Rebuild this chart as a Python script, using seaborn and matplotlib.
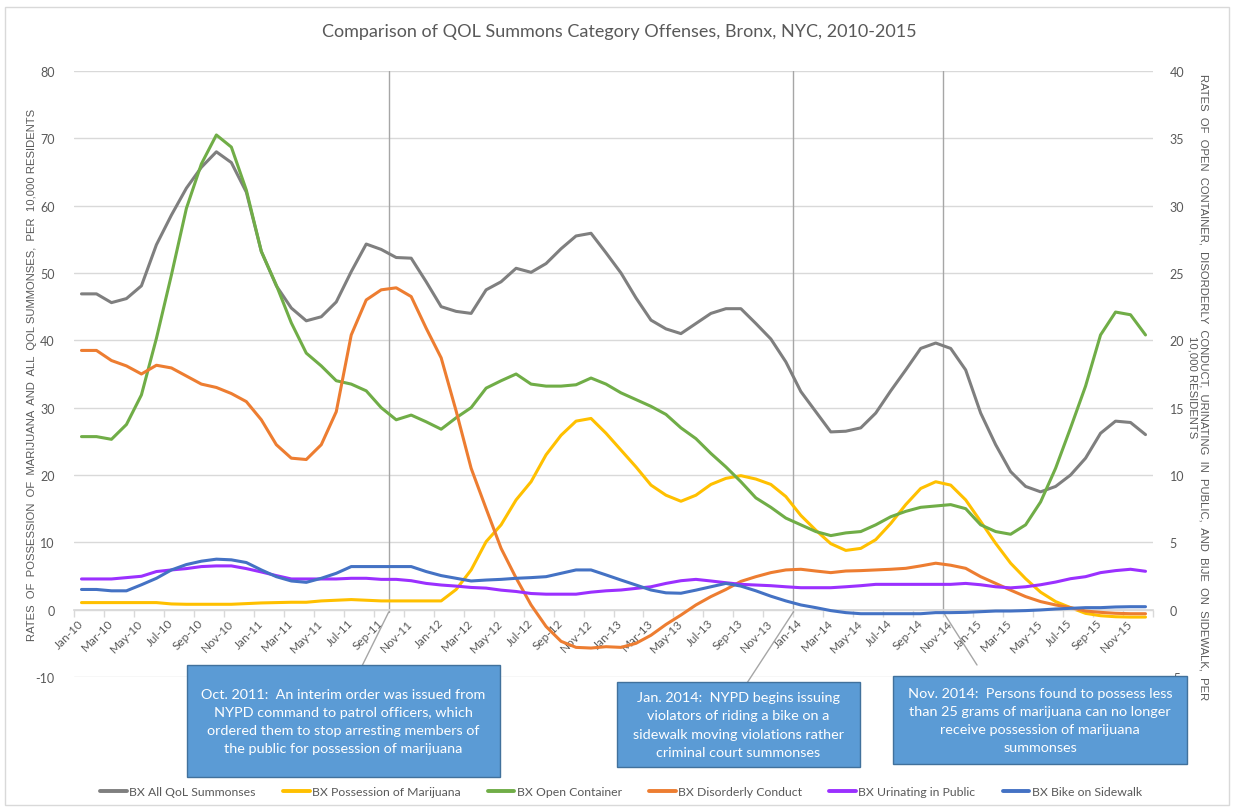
import numpy as np
import pandas as pd
import matplotlib
matplotlib.use('Agg')
import matplotlib.pyplot as plt
import seaborn as sns
from matplotlib.patches import Rectangle
from matplotlib.lines import Line2D

# Months Jan-10 .. Dec-15
months = list(pd.date_range('2010-01-01', periods=72, freq='MS').strftime('%b-%y'))

# left axis: rates per 10,000 residents
all_qol = [46.9, 46.9, 45.6, 46.2, 48.1, 54.2, 58.6, 62.6, 65.7, 68.0, 66.4, 62.0,
           53.2, 48.1, 44.8, 42.9, 43.5, 45.7, 50.2, 54.3, 53.5, 52.3, 52.2, 48.7,
           45.0, 44.3, 44.0, 47.5, 48.7, 50.7, 50.1, 51.4, 53.6, 55.5, 55.9, 53.0,
           50.0, 46.3, 43.0, 41.7, 41.0, 42.5, 44.0, 44.7, 44.7, 42.5, 40.2, 36.8,
           32.4, 29.4, 26.4, 26.5, 27.0, 29.2, 32.5, 35.6, 38.8, 39.6, 38.8, 35.6,
           29.2, 24.5, 20.5, 18.3, 17.5, 18.3, 20.0, 22.5, 26.2, 28.0, 27.8, 26.0]
marijuana = [1.05, 1.05, 1.05, 1.05, 1.05, 1.05, 0.85, 0.8, 0.8, 0.8, 0.8, 0.9,
             1.0, 1.05, 1.1, 1.1, 1.3, 1.4, 1.5, 1.4, 1.3, 1.3, 1.3, 1.3,
             1.3, 3.0, 5.9, 10.1, 12.6, 16.3, 19.0, 23.0, 25.9, 28.0, 28.4, 26.2,
             23.7, 21.2, 18.5, 17.0, 16.1, 17.0, 18.6, 19.5, 19.9, 19.4, 18.6, 16.8,
             14.0, 11.8, 9.8, 8.8, 9.1, 10.4, 12.8, 15.6, 18.0, 19.0, 18.5, 16.3,
             13.1, 9.85, 6.9, 4.6, 2.6, 1.2, 0.3, -0.55, -0.9, -1.05, -1.1, -1.1]

# right axis: rates per 10,000 residents
open_container = [12.85, 12.85, 12.65, 13.75, 15.95, 20.15, 24.85, 29.8, 33.1, 35.25, 34.35, 31.15,
                  26.6, 24.1, 21.3, 19.05, 18.1, 17.0, 16.75, 16.25, 15.0, 14.1, 14.45, 13.95,
                  13.4, 14.25, 15.0, 16.45, 17.0, 17.5, 16.75, 16.6, 16.6, 16.7, 17.2, 16.75,
                  16.1, 15.6, 15.1, 14.5, 13.5, 12.7, 11.6, 10.6, 9.5, 8.3, 7.6, 6.8,
                  6.3, 5.8, 5.5, 5.7, 5.8, 6.3, 6.9, 7.3, 7.6, 7.7, 7.8, 7.5,
                  6.3, 5.8, 5.6, 6.3, 8.0, 10.5, 13.5, 16.6, 20.4, 22.1, 21.9, 20.4]
disorderly = [19.25, 19.25, 18.5, 18.1, 17.5, 18.15, 17.95, 17.35, 16.75, 16.5, 16.05, 15.45,
              14.1, 12.25, 11.25, 11.15, 12.25, 14.7, 20.4, 23.0, 23.75, 23.9, 23.25, 20.9,
              18.7, 14.75, 10.5, 7.5, 4.55, 2.35, 0.35, -1.25, -2.35, -2.8, -2.85, -2.75,
              -2.8, -2.5, -1.9, -1.1, -0.4, 0.35, 0.97, 1.5, 2.1, 2.45, 2.75, 2.95,
              3.0, 2.87, 2.75, 2.87, 2.9, 2.95, 3.0, 3.07, 3.25, 3.45, 3.3, 3.07,
              2.45, 1.95, 1.45, 0.97, 0.6, 0.35, 0.15, -0.1, -0.2, -0.27, -0.3, -0.3]
urinating = [2.28, 2.28, 2.28, 2.38, 2.48, 2.83, 2.95, 3.05, 3.2, 3.25, 3.25, 3.05,
             2.8, 2.53, 2.28, 2.28, 2.28, 2.28, 2.33, 2.33, 2.25, 2.25, 2.15, 1.95,
             1.83, 1.75, 1.65, 1.6, 1.45, 1.35, 1.2, 1.15, 1.15, 1.15, 1.3, 1.4,
             1.46, 1.58, 1.7, 1.95, 2.15, 2.25, 2.13, 2.0, 1.88, 1.83, 1.78, 1.7,
             1.63, 1.63, 1.63, 1.7, 1.78, 1.88, 1.88, 1.88, 1.88, 1.88, 1.88, 1.95,
             1.85, 1.7, 1.62, 1.7, 1.85, 2.05, 2.3, 2.45, 2.75, 2.9, 3.0, 2.85]
bike = [1.5, 1.5, 1.4, 1.4, 1.85, 2.33, 2.95, 3.35, 3.6, 3.75, 3.7, 3.5,
        2.95, 2.45, 2.13, 2.03, 2.33, 2.7, 3.2, 3.2, 3.2, 3.2, 3.2, 2.83,
        2.53, 2.33, 2.13, 2.2, 2.25, 2.33, 2.38, 2.45, 2.7, 2.95, 2.95, 2.58,
        2.2, 1.83, 1.46, 1.25, 1.22, 1.45, 1.7, 1.95, 1.75, 1.4, 1.0, 0.65,
        0.35, 0.15, -0.07, -0.22, -0.3, -0.3, -0.3, -0.3, -0.3, -0.22, -0.22, -0.2,
        -0.15, -0.1, -0.1, -0.07, -0.02, 0.05, 0.1, 0.15, 0.15, 0.2, 0.22, 0.22]

left_series = {'BX All QoL Summonses': (all_qol, '#7F7F7F'),
               'BX Possession of Marijuana': (marijuana, '#FFC000')}
right_series = {'BX Open Container': (open_container, '#70AD47'),
                'BX Disorderly Conduct': (disorderly, '#ED7D31'),
                'BX Urinating in Public': (urinating, '#9B30FF'),
                'BX Bike on Sidewalk': (bike, '#4472C4')}

events = ['Oct-11', 'Jan-14', 'Nov-14']
notes = ['Oct. 2011:  An interim order was issued from\nNYPD command to patrol officers, which\n'
         'ordered them to stop arresting members of\nthe public for possession of marijuana',
         'Jan. 2014:  NYPD begins issuing\nviolators of riding a bike on a\n'
         'sidewalk moving violations rather\ncriminal court summonses',
         'Nov. 2014:  Persons found to possess less\nthan 25 grams of marijuana can no longer\n'
         'receive possession of marijuana\nsummonses']

sns.set_theme(style='white')
plt.rcParams['font.family'] = ['Lato', 'DejaVu Sans']
plt.rcParams['axes.unicode_minus'] = False
txt = '#595959'

W, H = 1234, 812
fig = plt.figure(figsize=(W / 100, H / 100), dpi=100)
fig.patches.append(Rectangle((5 / W, 1 - 806 / H), 1224 / W, 798 / H, transform=fig.transFigure,
                             fill=False, edgecolor='#D9D9D9', linewidth=1))

ax1 = fig.add_axes([74 / W, 1 - 678 / H, 1079 / W, 606 / H])
ax2 = ax1.twinx()
x = np.arange(len(months))

for name, (vals, col) in left_series.items():
    sns.lineplot(x=x, y=vals, ax=ax1, color=col, linewidth=2.2, legend=False)
for name, (vals, col) in right_series.items():
    sns.lineplot(x=x, y=vals, ax=ax2, color=col, linewidth=2.2, legend=False)

ax1.set_xlim(-0.5, len(months) - 0.5)
ax1.set_ylim(-10, 80)
ax2.set_ylim(-5, 40)
ax1.set_yticks(range(-10, 90, 10))
ax2.set_yticks(range(-5, 45, 5))
ax1.yaxis.grid(True, color='#D9D9D9', linewidth=1)
ax1.xaxis.grid(False)
for ax in (ax1, ax2):
    for s in ax.spines.values():
        s.set_visible(False)
    ax.tick_params(axis='y', length=0, labelsize=9, labelcolor=txt, pad=14)
ax1.spines['bottom'].set_visible(True)
ax1.spines['bottom'].set_position(('data', 0))
ax1.spines['bottom'].set_color('#D9D9D9')

ax1.set_xticks(x[::2])
ax1.set_xticklabels(months[::2], rotation=45, ha='right', va='center', rotation_mode='anchor')
ax1.set_xticks(np.arange(-0.5, len(months), 2), minor=True)
ax1.tick_params(axis='x', which='major', length=0, pad=8, labelsize=8.5, labelcolor=txt)
ax1.tick_params(axis='x', which='minor', length=5, color='#D9D9D9', bottom=True)
ax2.tick_params(axis='y', pad=12)

# event lines and callouts
boxes = [(187, 666, 500, 778), (617, 683, 860, 768), (893, 677, 1187, 765)]
leader_ends = [(362, 667), (747, 684), (977, 666)]
for ev, note, (bx0, by0, bx1, by1), (lx, ly) in zip(events, notes, boxes, leader_ends):
    xe = months.index(ev) - 0.5
    ax1.plot([xe, xe], [80, -0.35], color='#A6A6A6', linewidth=1, zorder=1)
    ax1.annotate('', xy=(lx / W, 1 - ly / H), xycoords='figure fraction',
                 xytext=(xe, -0.35), textcoords='data',
                 arrowprops=dict(arrowstyle='-', color='#A6A6A6', linewidth=1,
                                 shrinkA=0, shrinkB=0), annotation_clip=False)
    fig.patches.append(Rectangle((bx0 / W, 1 - by1 / H), (bx1 - bx0) / W, (by1 - by0) / H,
                                 transform=fig.transFigure, facecolor='#5B9BD5',
                                 edgecolor='#41719C', linewidth=1, zorder=5))
    fig.text((bx0 + bx1) / 2 / W, 1 - (by0 + by1) / 2 / H, note, ha='center', va='center',
             color='white', fontsize=10.4, linespacing=1.62, zorder=6)

fig.text(619 / W, 1 - 32 / H, 'Comparison of QOL Summons Category Offenses, Bronx, NYC, 2010-2015',
         ha='center', va='center', fontsize=13, color=txt)
fig.text(32 / W, 1 - 375 / H,
         'RATES  OF  POSSESSION  OF  MARIJUANA  AND  ALL  QOL SUMMONSES,  PER  10,000 RESIDENTS',
         rotation=90, ha='center', va='center', fontsize=8.1, color=txt,
         family=['Liberation Sans', 'DejaVu Sans'])
fig.text(1198 / W, 1 - 387 / H,
         'RATES  OF  OPEN  CONTAINER,  DISORDERLY  CONDUCT,  URINATING  IN  PUBLIC,  AND  BIJE  ON  SIDEWALK,  PER\n'
         '10,000 RESIDENTS',
         rotation=270, ha='center', va='center', multialignment='center', fontsize=8.1,
         color=txt, linespacing=1.15, family=['Liberation Sans', 'DejaVu Sans'])

handles = [Line2D([], [], color=c, linewidth=2.8) for _, c in
           list(left_series.values()) + list(right_series.values())]
labels = list(left_series) + list(right_series)
leg = fig.legend(handles, labels, loc='center', bbox_to_anchor=(621 / W, 1 - 793 / H), ncol=6,
                 frameon=False, fontsize=8.8, handlelength=2.2, handletextpad=0.2, columnspacing=2.2)
for t in leg.get_texts():
    t.set_color(txt)

fig.savefig('out.png', dpi=100)
